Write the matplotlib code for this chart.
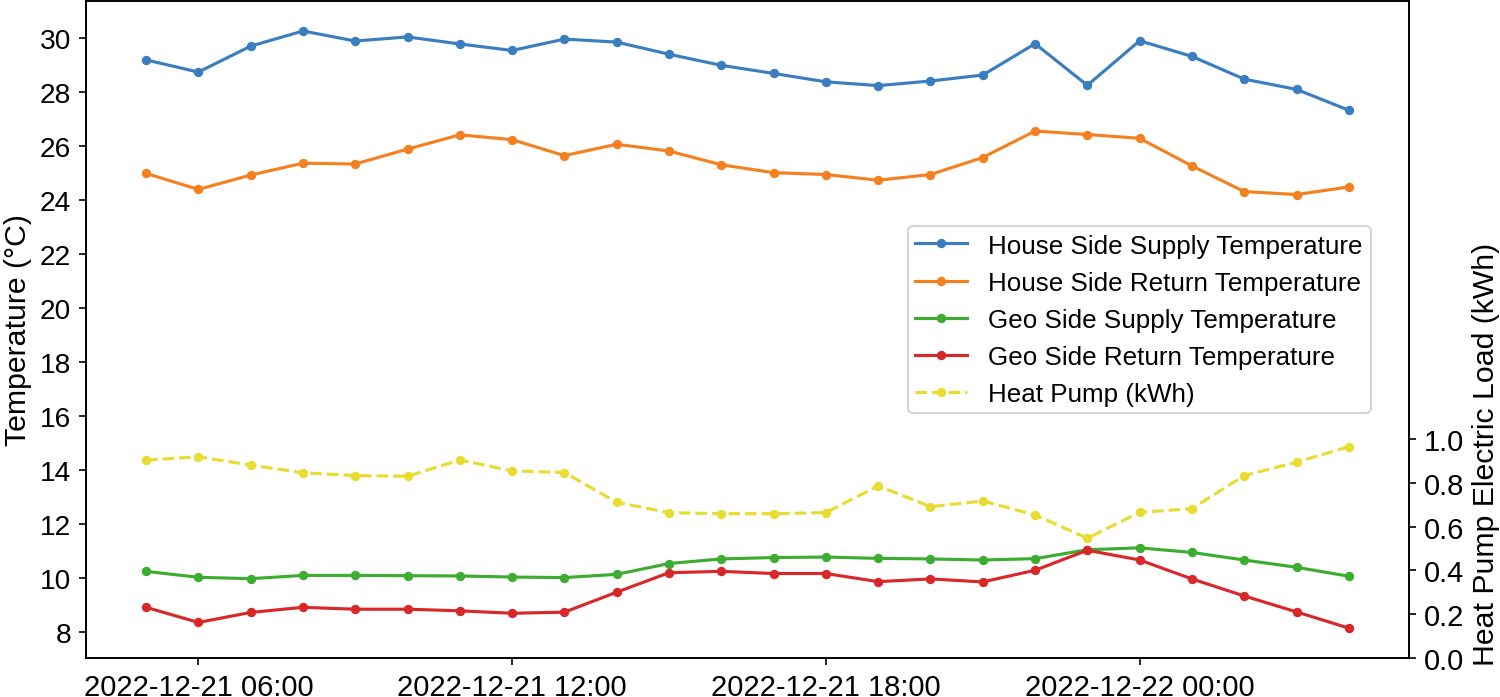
import matplotlib
matplotlib.use('Agg')
import matplotlib.pyplot as plt
import matplotlib.dates as mdates
import numpy as np
import pandas as pd

plt.rcParams['font.family'] = ['Liberation Sans', 'DejaVu Sans']
plt.rcParams['font.size'] = 12

times = pd.date_range('2022-12-21 05:00', periods=24, freq='h')

house_supply = [29.18, 28.73, 29.69, 30.25, 29.88, 30.03, 29.77, 29.53, 29.95, 29.84,
                29.39, 28.98, 28.68, 28.37, 28.23, 28.40, 28.62, 29.78, 28.24, 29.89,
                29.31, 28.47, 28.09, 27.32]
house_return = [24.98, 24.39, 24.92, 25.36, 25.33, 25.88, 26.41, 26.23, 25.64, 26.06,
                25.81, 25.30, 25.01, 24.94, 24.73, 24.94, 25.57, 26.55, 26.42, 26.28,
                25.26, 24.31, 24.20, 24.48]
geo_supply = [10.26, 10.04, 9.99, 10.11, 10.11, 10.10, 10.09, 10.05, 10.03, 10.15,
              10.55, 10.72, 10.77, 10.79, 10.74, 10.72, 10.68, 10.73, 11.06, 11.13,
              10.96, 10.68, 10.41, 10.08]
geo_return = [8.93, 8.37, 8.74, 8.93, 8.86, 8.86, 8.80, 8.71, 8.75, 9.49,
              10.21, 10.26, 10.18, 10.18, 9.88, 9.98, 9.87, 10.30, 11.04, 10.68,
              9.98, 9.35, 8.76, 8.16]
heat_pump = [0.904, 0.919, 0.881, 0.846, 0.833, 0.830, 0.904, 0.855, 0.847, 0.711,
             0.664, 0.659, 0.659, 0.664, 0.786, 0.691, 0.717, 0.653, 0.547, 0.665,
             0.682, 0.833, 0.894, 0.965]

fig, ax = plt.subplots(figsize=(10, 4.653), dpi=150)
fig.subplots_adjust(left=0.0573, right=0.9393, top=0.997, bottom=0.0559)

ms = 7
l1, = ax.plot(times, house_supply, marker='.', ms=ms, color='#3a7ebf', label='House Side Supply Temperature')
l2, = ax.plot(times, house_return, marker='.', ms=ms, color='#f58020', label='House Side Return Temperature')
l3, = ax.plot(times, geo_supply, marker='.', ms=ms, color='#3cad30', label='Geo Side Supply Temperature')
l4, = ax.plot(times, geo_return, marker='.', ms=ms, color='#d8282a', label='Geo Side Return Temperature')
ax.set_ylabel('Temperature (°C)', fontsize=14.5)
ax.set_yticks(np.arange(8, 31, 2))
ax.tick_params(axis='y', labelsize=13.5)
ax.tick_params(axis='x', labelsize=14)

ax2 = ax.twinx()
l5, = ax2.plot(times, heat_pump, marker='.', ms=ms, linestyle='--', color='#e8dc30', label='Heat Pump (kWh)')
ax2.set_ylim(0, 3)
ax2.set_yticks(np.arange(0, 1.01, 0.2))
ax2.tick_params(axis='y', labelsize=14)
ax2.set_ylabel('Heat Pump Electric Load (kWh)', fontsize=14.5, loc='bottom')
ax2.yaxis.label.set_y(-0.01)

ax.xaxis.set_major_locator(mdates.HourLocator(byhour=[0, 6, 12, 18]))
ax.xaxis.set_major_formatter(mdates.DateFormatter('%Y-%m-%d %H:%M'))

lines = [l1, l2, l3, l4, l5]
ax.legend(lines, [l.get_label() for l in lines], loc='upper right',
          bbox_to_anchor=(0.971, 0.658), borderaxespad=0, fontsize=12.5,
          borderpad=0.3, labelspacing=0.5)

fig.savefig('out.png', dpi=150)
